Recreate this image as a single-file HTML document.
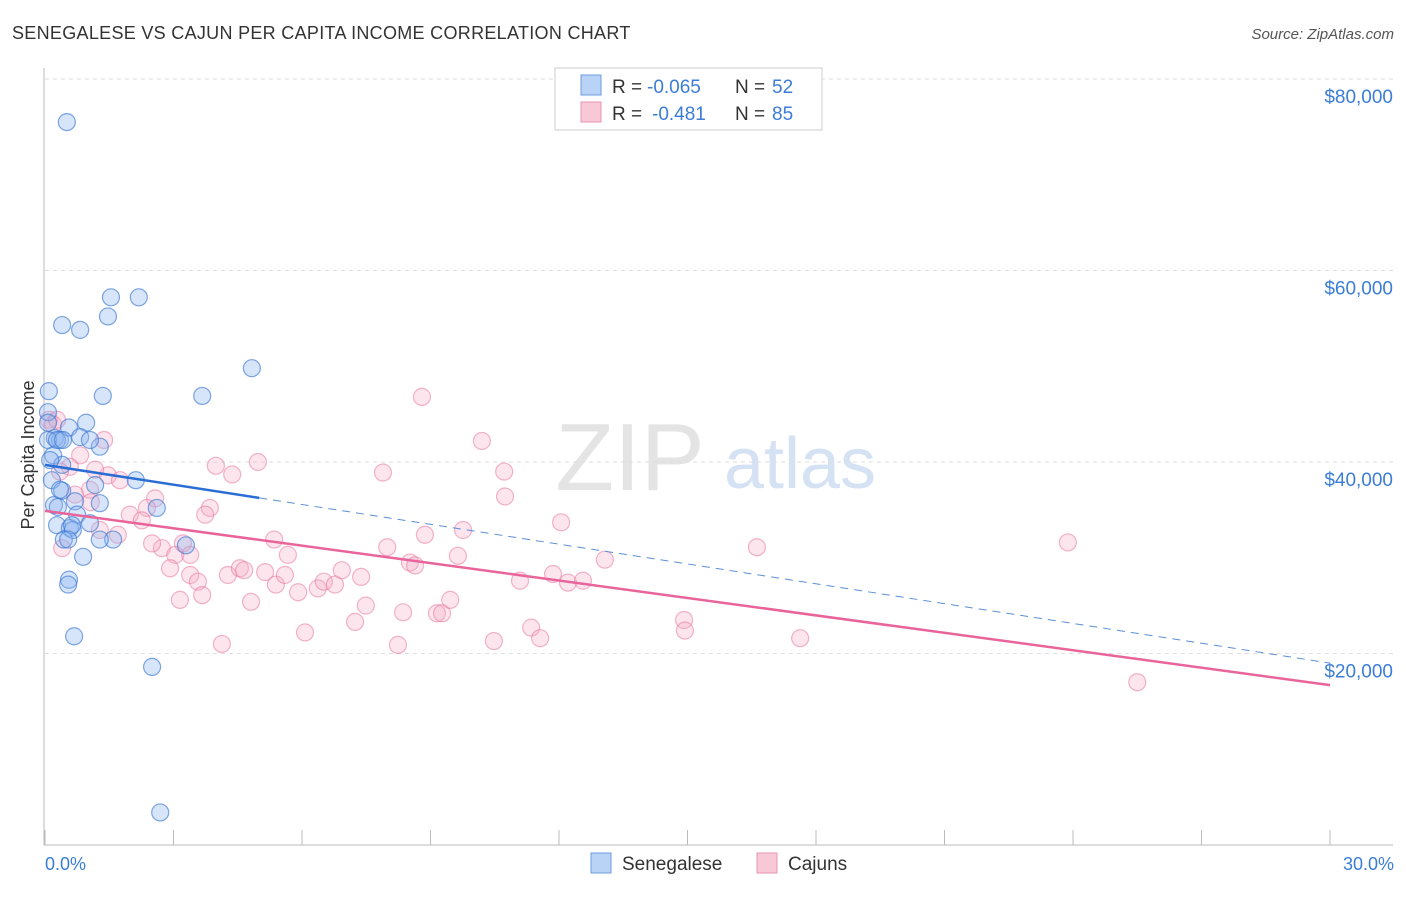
<!DOCTYPE html>
<html><head><meta charset="utf-8"><style>
body{margin:0;background:#fff;font-family:"Liberation Sans",sans-serif;}
svg text{font-family:"Liberation Sans",sans-serif;}
</style></head><body>
<svg id="chart" width="1406" height="892">
<text x="12" y="39" font-size="18" fill="#333" letter-spacing="0.3">SENEGALESE VS CAJUN PER CAPITA INCOME CORRELATION CHART</text>
<text x="1394" y="39" font-size="15" fill="#555" font-style="italic" text-anchor="end">Source: ZipAtlas.com</text>
<text x="630" y="490" font-size="96" fill="#e4e4e4" font-family="Liberation Serif" text-anchor="middle">ZIP</text>
<text x="800" y="488" font-size="72" fill="#d4e2f4" text-anchor="middle">atlas</text>
<g id="grid"></g><g id="marks"></g>
<text transform="translate(34,455) rotate(-90)" font-size="18" fill="#333" text-anchor="middle">Per Capita Income</text>
<text x="45" y="870" font-size="18" fill="#3b7dd8">0.0%</text>
<text x="1394" y="870" font-size="18" fill="#3b7dd8" text-anchor="end">30.0%</text>
<g>
<rect x="555" y="68" width="267" height="62" fill="#fff" stroke="#ccc"/>
<rect x="581" y="75" width="20" height="20" fill="#b8d3f5" stroke="#6d9be0"/>
<rect x="581" y="102" width="20" height="20" fill="#f9c8d7" stroke="#e895b0"/>
<text x="612" y="93" font-size="19" fill="#333">R =</text>
<text x="647" y="93" font-size="19" fill="#3b7dd8">-0.065</text>
<text x="735" y="93" font-size="19" fill="#333">N =</text>
<text x="772" y="93" font-size="19" fill="#3b7dd8">52</text>
<text x="612" y="120" font-size="19" fill="#333">R =</text>
<text x="652" y="120" font-size="19" fill="#3b7dd8">-0.481</text>
<text x="735" y="120" font-size="19" fill="#333">N =</text>
<text x="772" y="120" font-size="19" fill="#3b7dd8">85</text>
</g>
<g>
<rect x="591" y="853" width="20" height="20" fill="#b8d3f5" stroke="#6d9be0"/>
<text x="622" y="870" font-size="19" fill="#333">Senegalese</text>
<rect x="757" y="853" width="20" height="20" fill="#f9c8d7" stroke="#e895b0"/>
<text x="788" y="870" font-size="19" fill="#333">Cajuns</text>
</g>
</svg>
<script>
const yTicks=[20000,40000,60000,80000];
const yTickLabels=["$20,000","$40,000","$60,000","$80,000"];
const xTicks=[0,3,6,9,12,15,18,21,24,27,30];
const blueX=[0.51,0.40,0.82,1.54,2.19,1.47,4.83,3.67,1.35,0.09,0.07,0.96,0.56,0.07,0.23,0.35,0.82,1.28,0.19,0.40,2.12,0.16,0.40,1.17,0.21,0.30,0.70,1.28,2.61,0.75,1.05,0.28,0.58,0.65,0.63,0.44,0.54,1.59,3.29,0.89,0.56,0.54,0.68,2.50,2.69,0.07,0.28,0.42,1.05,0.12,0.35,1.28];
const blueY=[75500,54300,53800,57200,57200,55200,49800,46900,46900,47400,45200,44100,43600,44100,42500,42300,42600,41600,40700,39700,38100,38100,37000,37600,35500,35300,35900,35700,35200,34500,33600,33400,33100,32900,33400,31900,31900,31900,31300,30100,27700,27200,21800,18600,3400,42300,42300,42300,42300,40200,37100,31900];
const pinkX=[0.09,0.19,0.28,1.38,0.82,0.58,0.35,1.47,1.05,0.70,1.07,2.57,3.85,2.38,3.74,1.98,2.26,1.70,1.28,2.73,2.50,3.04,3.22,2.92,3.39,3.57,3.67,4.27,4.55,4.65,5.14,4.13,4.81,3.99,4.37,4.97,5.35,5.67,5.39,5.60,5.91,6.07,6.37,6.51,6.77,6.93,7.38,7.24,7.49,7.99,7.89,8.24,8.36,8.52,8.64,8.87,9.15,9.27,9.46,8.80,9.64,9.76,10.20,10.72,10.74,10.48,11.09,11.35,11.56,11.86,12.21,12.05,12.56,13.07,14.92,14.94,16.62,17.63,23.88,25.50,1.17,1.75,0.40,3.15,3.39];
const pinkY=[44400,43900,44400,42300,40700,39500,39000,38600,37100,36600,35800,36200,35200,35200,34500,34500,33900,32400,32900,31000,31500,30300,31500,28900,28200,27500,26100,28200,28900,28700,28500,21000,25400,39600,38700,40000,31900,30300,27200,28200,26400,22200,26800,27500,27200,28700,28000,23300,25000,31100,38900,20900,24300,29500,29200,32400,24200,24200,25600,46800,30200,32900,42200,39000,36400,21300,27600,22700,21600,28300,27400,33700,27600,29800,23500,22400,31100,21600,31600,17000,39200,38100,31000,25600,30300];
const blueTrend=[39700,19000];
const pinkTrend=[34900,16700];
const NS='http://www.w3.org/2000/svg';
const xs=v=>45+v*(1330-45)/30;
const ys=v=>845-v*766/80000;
function mk(tag,at,parent){const e=document.createElementNS(NS,tag);for(const k in at)e.setAttribute(k,at[k]);parent.appendChild(e);return e;}
const grid=document.getElementById('grid'),marks=document.getElementById('marks');
yTicks.forEach((t,i)=>{
 const l=mk('line',{x1:45,x2:1393,y1:ys(t),y2:ys(t),stroke:'#ddd','stroke-dasharray':'4,4'},grid);
 
 
 const tx=mk('text',{x:1393,y:ys(t)+24,'font-size':19,fill:'#3b7dd8','text-anchor':'end'},grid);
 tx.textContent=yTickLabels[i];
 
 
});
const ax=mk('line',{x1:44,x2:44,y1:68,y2:845,stroke:'#bbb'},grid);


const bx=mk('line',{x1:44,x2:1393,y1:845,y2:845,stroke:'#bbb'},grid);


xTicks.forEach(t=>{
 const l=mk('line',{x1:xs(t),x2:xs(t),y1:830,y2:845,stroke:'#bbb'},grid);
 
 
});
function pts(X,Y,fill,stroke,name){
 X.forEach((x,i)=>{
  const c=mk('circle',{cx:xs(x),cy:ys(Y[i]),r:8.5,fill:fill,stroke:stroke,'stroke-width':1.2},marks);
  
  
 });
}
pts(pinkX,pinkY,'rgba(246,170,195,0.3)','rgba(232,120,160,0.55)','cajun-point');
pts(blueX,blueY,'rgba(140,180,240,0.35)','rgba(60,120,210,0.65)','senegalese-point');
const bv=x=>blueTrend[0]+(blueTrend[1]-blueTrend[0])*x/30;
const pv=x=>pinkTrend[0]+(pinkTrend[1]-pinkTrend[0])*x/30;
const tb=mk('line',{x1:xs(0),y1:ys(bv(0)),x2:xs(5),y2:ys(bv(5)),stroke:'#2a6dd4','stroke-width':2.5},marks);


const td=mk('line',{x1:xs(5),y1:ys(bv(5)),x2:xs(30),y2:ys(bv(30)),stroke:'#5b8fd6','stroke-width':1,'stroke-dasharray':'8,6'},marks);


const tp=mk('line',{x1:xs(0),y1:ys(pv(0)),x2:xs(30),y2:ys(pv(30)),stroke:'#e8649a','stroke-width':2.5},marks);


</script>
</body></html>
